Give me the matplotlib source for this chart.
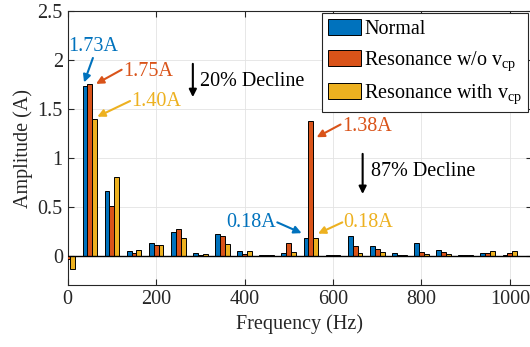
import matplotlib
matplotlib.use("Agg")
import matplotlib.pyplot as plt
import numpy as np

plt.rcParams['font.family'] = ['Liberation Serif', 'DejaVu Serif']
plt.rcParams['mathtext.fontset'] = 'custom'
plt.rcParams['mathtext.rm'] = 'Liberation Serif'
plt.rcParams['mathtext.it'] = 'Liberation Serif:italic'

freqs = [0, 50, 100, 150, 200, 250, 300, 350, 400, 450, 500,
         550, 600, 650, 700, 750, 800, 850, 900, 950, 1000]
normal = [-0.02, 1.73, 0.66, 0.044, 0.133, 0.241, 0.027, 0.224, 0.051, 0.006, 0.027,
          0.18, 0.003, 0.204, 0.095, 0.027, 0.133, 0.061, 0.004, 0.03, 0.01]
res_wo = [-0.034, 1.75, 0.51, 0.027, 0.112, 0.272, 0.003, 0.204, 0.02, 0.004, 0.13,
          1.38, 0.003, 0.10, 0.071, 0.008, 0.034, 0.037, 0.004, 0.03, 0.03]
res_with = [-0.136, 1.40, 0.80, 0.061, 0.112, 0.18, 0.014, 0.116, 0.051, 0.006, 0.037,
            0.18, 0.003, 0.027, 0.034, 0.008, 0.02, 0.02, 0.004, 0.048, 0.044]
series_labels = ['Normal', r'Resonance w/o v$_{\mathrm{cp}}$', r'Resonance with v$_{\mathrm{cp}}$']
colors = ['#0072BD', '#D95319', '#EDB120']

fs = 14.5
fig = plt.figure(figsize=(5.30, 3.47), dpi=100)
ax = fig.add_axes([67.7/530, 1-285/347, (532-67.7)/530, (285-11)/347])

x = np.array(freqs, dtype=float)
w = 11.0
handles = []
for i, (vals, c, lab) in enumerate(zip([normal, res_wo, res_with], colors, series_labels)):
    h = ax.bar(x + (i-1)*w, vals, width=w, color=c, edgecolor='black', linewidth=0.7,
               label=lab, zorder=3)
    handles.append(h)

ax.axhline(0, color='black', lw=1.0, zorder=4)

ax.set_xlim(0, 1050)
ax.set_ylim(-0.3, 2.5)
ax.set_xticks([0, 200, 400, 600, 800, 1000])
ax.set_yticks([0, 0.5, 1, 1.5, 2, 2.5])
ax.set_yticklabels(['0', '0.5', '1', '1.5', '2', '2.5'])
ax.grid(True, color='#e3e3e3', lw=0.6, zorder=0)
ax.set_axisbelow(True)
ax.tick_params(direction='in', length=4, top=True, right=True, labelsize=fs,
               colors='#262626', width=0.8)
for s in ax.spines.values():
    s.set_color('#262626')
    s.set_linewidth(0.8)
ax.set_xlabel('Frequency (Hz)', fontsize=fs, color='#262626', labelpad=4)
ax.set_ylabel('Amplitude (A)', fontsize=fs, color='#262626', labelpad=3)

def arrow(tail, tip, color):
    ax.annotate('', xy=tip, xytext=tail,
                arrowprops=dict(arrowstyle='-|>', color=color, lw=1.5,
                                mutation_scale=11, shrinkA=0, shrinkB=0), zorder=6)

blue, red, yel = colors
ax.text(57, 2.14, '1.73A', color=blue, fontsize=fs, ha='center', va='center')
arrow((57, 2.02), (37, 1.77), blue)
ax.text(125, 1.885, '1.75A', color=red, fontsize=fs, ha='left', va='center')
arrow((122, 1.90), (64, 1.755), red)
ax.text(144, 1.575, '1.40A', color=yel, fontsize=fs, ha='left', va='center')
arrow((141, 1.58), (67, 1.42), yel)

arrow((283, 1.96), (283, 1.62), 'black')
ax.text(300, 1.78, '20% Decline', color='black', fontsize=fs, ha='left', va='center')
arrow((667, 1.04), (667, 0.63), 'black')
ax.text(687, 0.86, '87% Decline', color='black', fontsize=fs, ha='left', va='center')

ax.text(620, 1.32, '1.38A', color=red, fontsize=fs, ha='left', va='center')
arrow((617, 1.34), (563, 1.21), red)
ax.text(472, 0.334, '0.18A', color=blue, fontsize=fs, ha='right', va='center')
arrow((474, 0.34), (529, 0.23), blue)
ax.text(624, 0.334, '0.18A', color=yel, fontsize=fs, ha='left', va='center')
arrow((621, 0.34), (566, 0.225), yel)

leg = ax.legend(handles=handles, loc='upper left',
                bbox_to_anchor=(322/530, 1-13/347), bbox_transform=fig.transFigure,
                fontsize=fs, frameon=True, fancybox=False, framealpha=1,
                edgecolor='#262626', handlelength=1.65, handleheight=0.85,
                handletextpad=0.15, borderpad=0.3, labelspacing=0.5,
                borderaxespad=0)
leg.get_frame().set_linewidth(0.8)
leg.set_zorder(10)

fig.savefig('out.png', dpi=100)
